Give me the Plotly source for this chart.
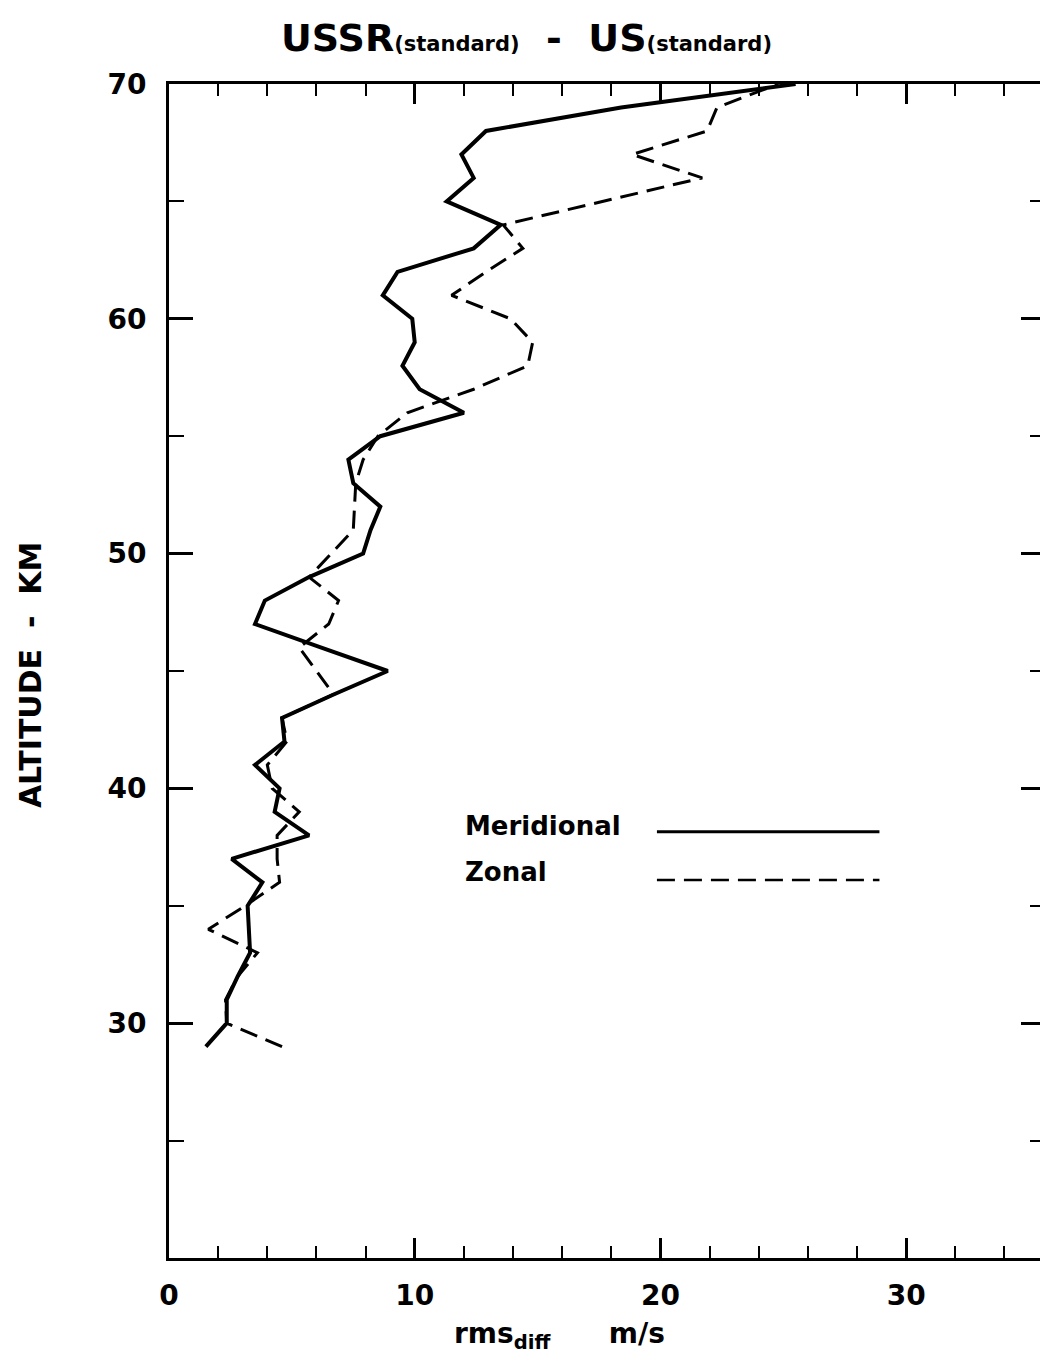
import plotly.graph_objects as go

# altitude levels (km) and rms differences (m/s)
altitude = list(range(29, 71))

meridional = [1.5, 2.35, 2.35, 2.8, 3.3, 3.25, 3.2, 3.8, 2.55, 5.7,
              4.3, 4.5, 3.5, 4.7, 4.6, 6.7, 8.9, 6.2, 3.5, 3.9,
              5.7, 7.9, 8.2, 8.6, 7.5, 7.3, 8.6, 12.0, 10.2, 9.5,
              10.0, 9.9, 8.7, 9.3, 12.4, 13.5, 11.3, 12.4, 11.9, 12.9,
              18.4, 25.5]

zonal = [4.6, 2.35, 2.3, 2.8, 3.6, 1.6, 3.1, 4.5, 4.4, 4.4,
         5.3, 4.2, 4.0, 4.8, 4.6, 6.7, 6.0, 5.3, 6.5, 6.9,
         5.7, 6.6, 7.5, 7.55, 7.6, 7.9, 8.5, 9.7, 12.4, 14.6,
         14.8, 13.9, 11.5, 12.9, 14.4, 13.6, 17.6, 21.7, 18.85, 21.9,
         22.3, 24.8]

x_ticks = [0, 10, 20, 30]
y_ticks = [30, 40, 50, 60, 70]

FONT = "DejaVu Sans"
DASH = "18px,9px"

fig = go.Figure()

fig.add_trace(go.Scatter(x=meridional, y=altitude, mode='lines', name='Meridional',
                         line=dict(color='black', width=4)))
fig.add_trace(go.Scatter(x=zonal, y=altitude, mode='lines', name='Zonal',
                         line=dict(color='black', width=3, dash=DASH)))

axis_common = dict(
    showgrid=False, zeroline=False,
    showline=True, linecolor='black', linewidth=3,
    mirror='ticks', ticks='inside', tickcolor='black', tickwidth=3,
    tickfont=dict(family=FONT, size=28, color='black', weight='bold'),
)

# page body has an 8px margin, so the figure is a little smaller than the window
fig.update_layout(
    width=1040,
    height=1357,
    margin=dict(l=161, r=0, t=76, b=107),
    paper_bgcolor='white',
    plot_bgcolor='white',
    showlegend=False,
    xaxis=dict(axis_common, range=[0, 35.65], tickvals=x_ticks, ticklen=20,
               ticklabelstandoff=10,
               minor=dict(dtick=2, tick0=0, ticks='inside', ticklen=12,
                          tickwidth=2, tickcolor='black')),
    yaxis=dict(axis_common, range=[20, 70], tickvals=y_ticks, ticklen=24,
               ticklabelstandoff=14,
               minor=dict(dtick=5, tick0=0, ticks='inside', ticklen=15,
                          tickwidth=2, tickcolor='black')),
)

# title with small "(standard)" parts
small = "<span style='font-size:21px'>(standard)</span>"
fig.add_annotation(
    text="<b>USSR" + small + "  -  US" + small + "</b>",
    xref='paper', yref='paper', x=0.408, y=1.039, yanchor='middle',
    showarrow=False, font=dict(family=FONT, size=38, color='black'),
)

# axis titles
fig.add_annotation(
    text="<b>rms<sub>diff</sub>      m/s</b>",
    xref='paper', yref='paper', x=0.446, y=-0.066, yanchor='middle',
    showarrow=False, font=dict(family=FONT, size=28, color='black'),
)
fig.add_annotation(
    text="<b>ALTITUDE  -  KM</b>",
    xref='paper', yref='paper', x=-0.158, y=0.497, textangle=-90,
    xanchor='center', yanchor='middle',
    showarrow=False, font=dict(family=FONT, size=30, color='black'),
)

# hand drawn legend: label on the left, line sample on the right
fig.add_annotation(text="<b>Meridional</b>", xref='paper', yref='paper',
                   x=0.336, y=0.368, xanchor='left', yanchor='middle', showarrow=False,
                   font=dict(family=FONT, size=26, color='black'))
fig.add_annotation(text="<b>Zonal</b>", xref='paper', yref='paper',
                   x=0.336, y=0.329, xanchor='left', yanchor='middle', showarrow=False,
                   font=dict(family=FONT, size=26, color='black'))
fig.add_shape(type='line', xref='paper', yref='paper', x0=0.557, x1=0.811,
              y0=0.363, y1=0.363, line=dict(color='black', width=3))
fig.add_shape(type='line', xref='paper', yref='paper', x0=0.557, x1=0.811,
              y0=0.322, y1=0.322, line=dict(color='black', width=2.5, dash=DASH))

fig.write_html("out.html")
